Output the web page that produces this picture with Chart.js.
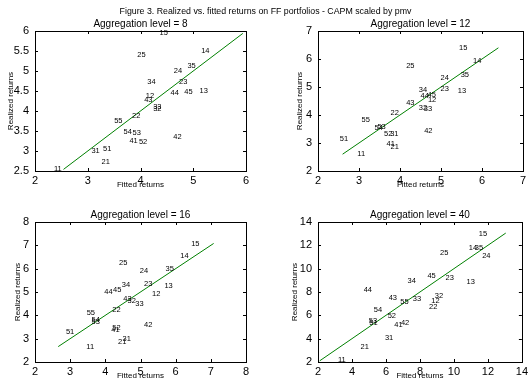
<!DOCTYPE html>
<html>
<head>
<meta charset="utf-8">
<style>
  body { margin: 0; background: #fff; width: 531px; height: 380px; overflow: hidden; position: relative; font-family: "Liberation Sans", Arial, sans-serif; }
  canvas { position: absolute; }
  #suptitle { position: absolute; left: 0; width: 531px; top: 6px; text-align: center; font-size: 8.8px; color: #000; z-index: 2; }
</style>
</head>
<body>
<div id="suptitle">Figure 3. Realized vs. fitted returns on FF portfolios - CAPM scaled by pmv</div>
<canvas id="c8" width="259" height="189" style="left:6px;top:0px"></canvas>
<canvas id="c12" width="242" height="189" style="left:289px;top:0px"></canvas>
<canvas id="c16" width="259" height="189" style="left:6px;top:191px"></canvas>
<canvas id="c40" width="242" height="189" style="left:289px;top:191px"></canvas>
<script src="https://cdn.jsdelivr.net/npm/chart.js"></script>
<script>
  // portfolio names, same order in every panel
  var portfolios = ["11","12","13","14","15","21","22","23","24","25","31","32","33","34","35","41","42","43","44","45","51","52","53","54","55"];

  // aggregation level 8
  var fitted8 = [2.36,4.10,5.12,5.15,4.36,3.26,3.84,4.73,4.63,3.94,3.07,4.24,4.24,4.13,4.89,3.79,4.62,4.07,4.57,4.83,3.29,3.97,3.85,3.68,3.50];
  var realized8 = [2.54,4.37,4.51,5.50,5.94,2.73,3.88,4.72,4.99,5.41,2.99,4.05,4.11,4.72,5.12,3.25,3.36,4.28,4.46,4.47,3.06,3.22,3.44,3.48,3.76];
  var line8 = [2.54, 5.94];

  // aggregation level 12
  var fitted12 = [2.96,4.68,5.41,5.78,5.44,3.77,3.77,4.99,4.99,4.15,3.76,4.46,4.58,4.46,5.48,3.67,4.59,4.15,4.50,4.67,2.53,3.61,3.45,3.38,3.06];
  var realized12 = [2.62,4.53,4.85,5.92,6.38,2.86,4.08,4.94,5.34,5.75,3.31,4.27,4.22,4.91,5.44,2.98,3.42,4.44,4.68,4.71,3.14,3.31,3.56,3.55,3.82];
  var line12 = [2.60, 6.40];

  // aggregation level 16
  var fitted16 = [3.46,5.33,5.68,6.13,6.44,4.36,4.20,5.10,4.98,4.39,4.49,4.63,4.85,4.47,5.71,4.17,5.10,4.51,3.97,4.22,2.88,4.20,3.61,3.61,3.47];
  var realized16 = [2.66,4.91,5.28,6.56,7.08,2.86,4.24,5.35,5.91,6.26,2.98,4.62,4.49,5.31,5.99,3.38,3.57,4.69,5.02,5.08,3.30,3.47,3.70,3.80,4.10];
  var line16 = [2.66, 7.08];

  // aggregation level 40
  var fitted40 = [3.17,8.67,10.74,10.88,11.46,4.50,8.54,9.51,11.66,9.18,5.94,8.87,7.58,7.27,11.23,6.49,6.88,6.16,4.69,8.44,5.02,6.10,4.99,5.28,6.84];
  var realized40 = [2.14,7.26,8.83,11.77,13.00,3.29,6.69,9.23,11.11,11.37,4.09,7.63,7.43,8.97,11.77,5.17,5.37,7.49,8.20,9.37,5.34,5.91,5.54,6.43,7.14];
  var line40 = [2.10, 13.05];

  var fontFam = "'Liberation Sans', Arial, sans-serif";

  // MATLAB-like box with inward ticks, plus the text labels at each point
  var boxAndLabels = {
    id: "boxAndLabels",
    afterDatasetsDraw: function (chart) {
      var ctx = chart.ctx, a = chart.chartArea;
      var xs = chart.scales.x, ys = chart.scales.y;
      ctx.save();
      var meta = chart.getDatasetMeta(0);
      ctx.fillStyle = "#000";
      ctx.font = "7.5px " + fontFam;
      ctx.textAlign = "left";
      ctx.textBaseline = "middle";
      meta.data.forEach(function (pt, i) {
        ctx.fillText(portfolios[i], pt.x, pt.y);
      });
      ctx.strokeStyle = "#000";
      ctx.lineWidth = 1;
      ctx.strokeRect(Math.round(a.left) + 0.5, Math.round(a.top) + 0.5, Math.round(a.right - a.left), Math.round(a.bottom - a.top));
      ctx.beginPath();
      xs.ticks.forEach(function (t) {
        var px = Math.round(xs.getPixelForValue(t.value)) + 0.5;
        ctx.moveTo(px, a.bottom); ctx.lineTo(px, a.bottom - 3);
        ctx.moveTo(px, a.top); ctx.lineTo(px, a.top + 3);
      });
      ys.ticks.forEach(function (t) {
        var py = Math.round(ys.getPixelForValue(t.value)) + 0.5;
        ctx.moveTo(a.left, py); ctx.lineTo(a.left + 3, py);
        ctx.moveTo(a.right, py); ctx.lineTo(a.right - 3, py);
      });
      ctx.stroke();
      ctx.restore();
    }
  };

  function fmt(v) { return String(+v.toFixed(2)); }

  function makePanel(id, level, fitted, realized, lineEnds, xMin, xMax, xStep, yMin, yMax, yStep, rightPad, yTitlePad) {
    new Chart(document.getElementById(id), {
      type: "scatter",
      data: {
        datasets: [
          {
            data: fitted.map(function (x, i) { return { x: x, y: realized[i] }; }),
            pointRadius: 0
          },
          {
            data: lineEnds.map(function (v) { return { x: v, y: v }; }),
            showLine: true,
            borderColor: "#008000",
            borderWidth: 1,
            pointRadius: 0
          }
        ]
      },
      options: {
        responsive: false,
        animation: false,
        events: [],
        layout: { padding: { top: 0, right: rightPad, bottom: 0, left: 0 } },
        plugins: {
          legend: { display: false },
          tooltip: { enabled: false },
          title: {
            display: true,
            fullSize: false,
            text: "Aggregation level = " + level,
            color: "#000",
            font: { family: fontFam, size: 10, weight: "normal", lineHeight: 1.2 },
            padding: { top: 18, bottom: 1 }
          }
        },
        scales: {
          x: {
            type: "linear", min: xMin, max: xMax,
            ticks: { stepSize: xStep, color: "#000", padding: 3, font: { family: fontFam, size: 11 }, callback: fmt },
            grid: { display: false, drawTicks: false },
            border: { display: false },
            title: { display: true, text: "Fitted returns", color: "#000", padding: 0, font: { family: fontFam, size: 8, lineHeight: 1 } },
            afterFit: function (s) { s.height = 18; }
          },
          y: {
            type: "linear", min: yMin, max: yMax,
            ticks: { stepSize: yStep, color: "#000", padding: 6, font: { family: fontFam, size: 11 }, callback: fmt },
            grid: { display: false, drawTicks: false },
            border: { display: false },
            title: { display: true, text: "Realized returns", color: "#000", padding: { top: yTitlePad, bottom: 0 }, font: { family: fontFam, size: 8, lineHeight: 1 } },
            afterFit: function (s) { s.width = 29; }
          }
        }
      },
      plugins: [boxAndLabels]
    });
  }

  makePanel("c8", 8, fitted8, realized8, line8, 2, 6, 1, 2.5, 6, 0.5, 19, 1);
  makePanel("c12", 12, fitted12, realized12, line12, 2, 7, 1, 2, 7, 1, 8, 7);
  makePanel("c16", 16, fitted16, realized16, line16, 2, 8, 1, 2, 8, 1, 19, 8);
  makePanel("c40", 40, fitted40, realized40, line40, 2, 14, 2, 2, 14, 2, 8, 2);
</script>
</body>
</html>
